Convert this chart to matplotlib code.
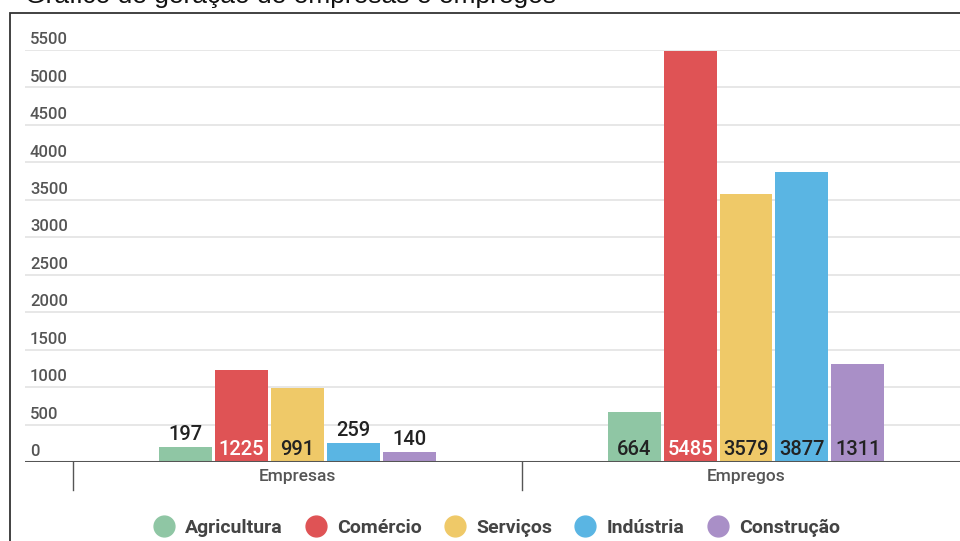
import numpy as np
import matplotlib
matplotlib.use('Agg')
import matplotlib.pyplot as plt
import matplotlib.transforms as mtransforms
from matplotlib.lines import Line2D
from matplotlib.patches import Rectangle

# dados do gráfico
grupos = ['Empresas', 'Empregos']
setores = ['Agricultura', 'Comércio', 'Serviços', 'Indústria', 'Construção']
agricultura = [197, 664]
comercio = [1225, 5485]
servicos = [991, 3579]
industria = [259, 3877]
construcao = [140, 1311]
valores = [agricultura, comercio, servicos, industria, construcao]
cores = ['#8FC6A4', '#DF5355', '#EFC968', '#5AB5E3', '#A98FC7']
cor_rotulo = ['#222222', '#FFFFFF', '#222222', '#222222', '#222222']
yticks = [0, 500, 1000, 1500, 2000, 2500, 3000, 3500, 4000, 4500, 5000, 5500]

plt.rcParams['font.family'] = ['Roboto', 'DejaVu Sans']

W, H = 960, 541
fig = plt.figure(figsize=(W / 100, H / 100), dpi=100)

# moldura (cortada à direita e embaixo)
fig.patches.append(Rectangle((10 / W, -0.05), 1.0, 1 - 13 / H + 0.05,
                             transform=fig.transFigure, fill=False,
                             edgecolor='#333333', linewidth=1.3))

# título cortado no topo, como no original
fig.text(25 / W, 1 - 3 / H, 'Gráfico de geração de empresas e empregos',
         fontsize=19, family='Liberation Sans', color='#111111',
         ha='left', va='baseline')

ax = fig.add_axes([25 / W, 1 - 462 / H, 935 / W, 412 / H])
ax.set_xlim(-0.607, 1.477)
ax.set_ylim(0, 5500)
for s in ax.spines.values():
    s.set_visible(False)
ax.set_xticks([])
ax.set_yticks([])

# grade
for v in yticks[1:]:
    ax.axhline(v, color='#E3E3E3', lw=1.2, zorder=0)
ax.axhline(0, color='#555555', lw=2.2, zorder=3)

trans_y = mtransforms.blended_transform_factory(ax.transAxes, ax.transData)
for v in yticks:
    ax.annotate(str(v), (5 / 935, v), xycoords=trans_y, xytext=(0, 2),
                textcoords='offset points', ha='left', va='bottom',
                fontsize=12, color='#555555', fontweight='medium')

ax_x = np.arange(len(grupos))
largura = 0.118
passo = 0.1247

for i, (serie, cor) in enumerate(zip(valores, cores)):
    pos = ax_x + (i - 2) * passo
    barras = ax.bar(pos, serie, width=largura, color=cor, zorder=2)
    for b, v in zip(barras, serie):
        cx = b.get_x() + b.get_width() / 2
        if v > 300:
            ax.annotate(str(v), (cx, 0), xytext=(0, 2), textcoords='offset points',
                        ha='center', va='bottom', fontsize=14.5,
                        fontweight='medium', color=cor_rotulo[i], zorder=4)
        else:
            ax.annotate(str(v), (cx, v), xytext=(0, 2), textcoords='offset points',
                        ha='center', va='bottom', fontsize=14.5,
                        fontweight='medium', color='#222222', zorder=4)

# eixo de categorias
trans_x = mtransforms.blended_transform_factory(ax.transData, fig.transFigure)
for xt in [-0.5, 0.5, 1.5]:
    fig.add_artist(Line2D([xt, xt], [1 - 462 / H, 1 - 490 / H], transform=trans_x,
                          color='#555555', lw=1.0))
for xc, g in zip(ax_x, grupos):
    fig.text(xc, 1 - 476 / H, g, transform=trans_x, ha='center', va='center',
             fontsize=12.5, color='#555555', fontweight='medium')

# legenda
handles = [Line2D([], [], marker='o', linestyle='', markersize=15,
                  markerfacecolor=c, markeredgecolor=c) for c in cores]
fig.legend(handles, setores, loc='center', bbox_to_anchor=(494 / W, 1 - 528 / H),
           ncol=5, frameon=False, handletextpad=0.3, columnspacing=0.9,
           handlelength=1.6, prop={'size': 14, 'weight': 'bold'},
           labelcolor='#444444')

fig.savefig('out.png', dpi=100)
